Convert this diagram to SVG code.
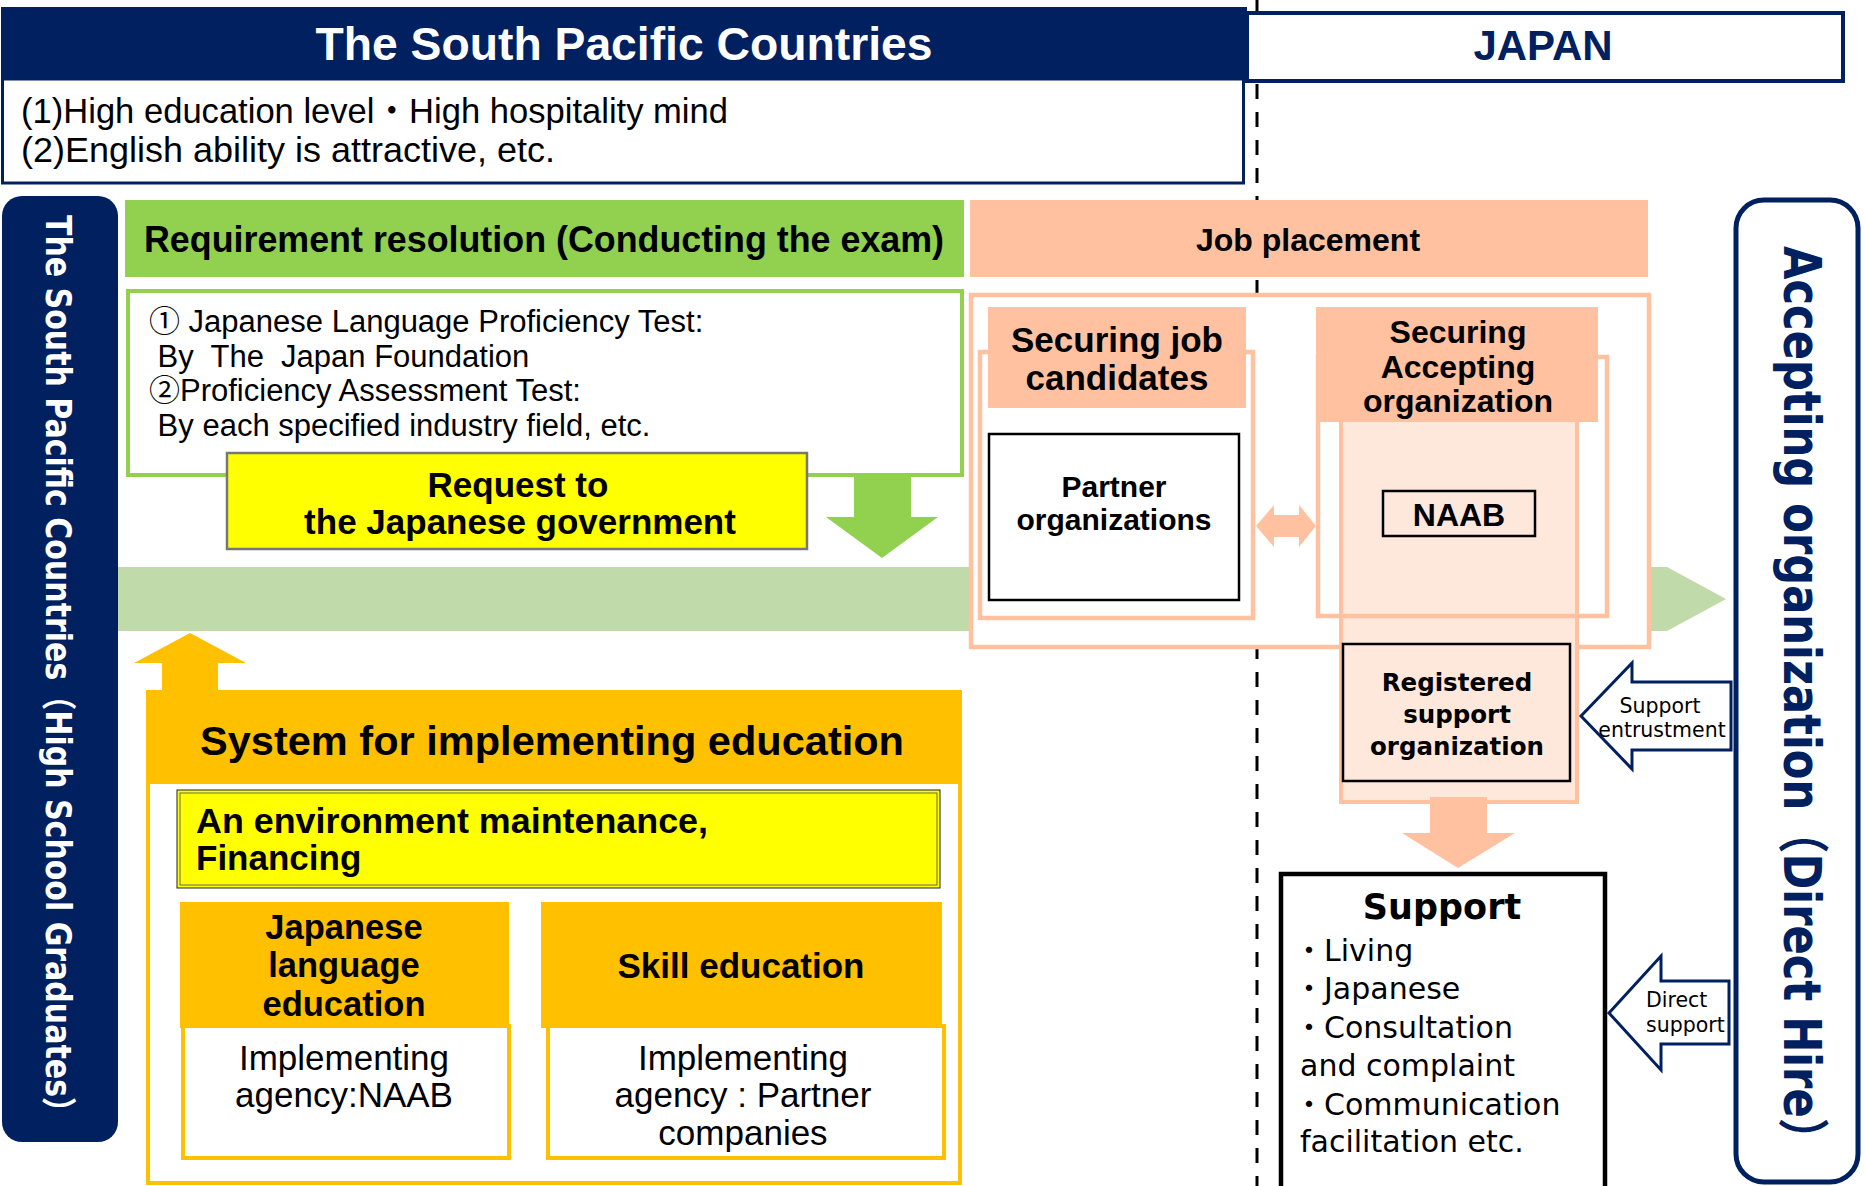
<svg xmlns="http://www.w3.org/2000/svg" width="1866" height="1186" viewBox="0 0 1866 1186">
  <style>
    .ls { font-family: "Liberation Sans", "Noto Sans CJK JP", sans-serif; }
    .dv { font-family: "DejaVu Sans", "Noto Sans CJK JP", sans-serif; }
    .b { font-weight: bold; }
    .mid { text-anchor: middle; }
    .navy { fill: #002060; }
    .peach { fill: #FFC19F; }
    .peachline { fill: none; stroke: #FFC19F; stroke-width: 4.5; }
    .blackbox { stroke: #000; stroke-width: 2.5; }
    .orangeline { fill: #fff; stroke: #FFC000; stroke-width: 4; }
    .callout { fill: #fff; stroke: #002060; stroke-width: 3; stroke-linejoin: miter; }
  </style>

  <!-- border between the two regions -->
  <line x1="1257" y1="0" x2="1257" y2="1186" stroke="#000" stroke-width="3" stroke-dasharray="15 13"/>

  <!-- title bar -->
  <g id="title-south-pacific">
    <rect x="1" y="7" width="1246" height="71" class="navy"/>
    <text x="624" y="60" class="ls b mid" font-size="46" fill="#fff" textLength="617" lengthAdjust="spacingAndGlyphs">The South Pacific Countries</text>
  </g>
  <g id="title-japan">
    <rect x="1247" y="13" width="596" height="68" fill="#fff" stroke="#002060" stroke-width="4"/>
    <text x="1543" y="60" class="ls b mid navy" font-size="42">JAPAN</text>
  </g>
  <g id="features">
    <rect x="2.5" y="79" width="1241" height="104" fill="#fff" stroke="#002060" stroke-width="3"/>
    <text x="21" y="123" class="ls" font-size="35" textLength="707" lengthAdjust="spacingAndGlyphs">(1)High education level・High hospitality mind</text>
    <text x="21" y="162" class="ls" font-size="35" textLength="534" lengthAdjust="spacingAndGlyphs">(2)English ability is attractive, etc.</text>
  </g>

  <!-- side bands -->
  <g id="graduates">
    <rect x="2" y="196" width="116" height="946" rx="20" class="navy"/>
    <text transform="translate(46,215) rotate(90) scale(1,1.17)" x="0" y="0" class="dv b" font-size="30" fill="#fff" textLength="912" lengthAdjust="spacingAndGlyphs">The South Pacific Countries（High School Graduates）</text>
  </g>
  <g id="accepting-org">
    <rect x="1736" y="200" width="122" height="982" rx="28" fill="#fff" stroke="#002060" stroke-width="5"/>
    <text transform="translate(1784,246) rotate(90) scale(1,1.2)" x="0" y="0" class="dv b navy" font-size="43" textLength="915" lengthAdjust="spacingAndGlyphs">Accepting organization（Direct Hire）</text>
  </g>

  <!-- connectors -->
  <g id="connectors">
    <polygon points="118,567 1667,567 1726,599 1667,631 118,631" fill="#C1DAAA"/>
    <polygon points="854,475 911,475 911,517 938,517 882,558 826,517 854,517" fill="#92D050"/>
    <polygon points="190,633 246,663 218,663 218,694 162,694 162,663 134,663" fill="#FFC000"/>
  </g>

  <!-- exam requirements -->
  <g id="requirement">
    <rect x="125" y="200" width="839" height="77" fill="#92D050"/>
    <text x="544" y="252" class="ls b mid" font-size="36" textLength="800" lengthAdjust="spacingAndGlyphs">Requirement resolution (Conducting the exam)</text>
  </g>
  <g id="exams">
    <rect x="128" y="291" width="834" height="184" fill="#fff" stroke="#92D050" stroke-width="4"/>
    <text x="149" y="332" class="ls" font-size="31" xml:space="preserve">① Japanese Language Proficiency Test:</text>
    <text x="149" y="367" class="ls" font-size="31" xml:space="preserve"> By  The  Japan Foundation</text>
    <text x="149" y="401" class="ls" font-size="31" xml:space="preserve">②Proficiency Assessment Test:</text>
    <text x="149" y="436" class="ls" font-size="31" xml:space="preserve"> By each specified industry field, etc.</text>
  </g>
  <g id="request">
    <rect x="227" y="453" width="580" height="96" fill="#FFFF00" stroke="#777" stroke-width="2.5"/>
    <text x="518" y="497" class="ls b mid" font-size="35">Request to</text>
    <text x="520" y="534" class="ls b mid" font-size="35">the Japanese government</text>
  </g>

  <!-- education system -->
  <g id="education-system">
    <rect x="148" y="692" width="812" height="491" fill="#fff" stroke="#FFC000" stroke-width="4"/>
    <rect x="146" y="692" width="816" height="92" fill="#FFC000"/>
    <text x="552" y="755" class="ls b mid" font-size="41.5" textLength="704" lengthAdjust="spacingAndGlyphs">System for implementing education</text>
  </g>
  <g id="environment">
    <rect x="177" y="790" width="763" height="98" fill="#FFFF00" stroke="#222" stroke-width="1"/>
    <rect x="180" y="793" width="757" height="92" fill="none" stroke="#666" stroke-width="1"/>
    <text x="196" y="833" class="ls b" font-size="35" textLength="512" lengthAdjust="spacingAndGlyphs">An environment maintenance,</text>
    <text x="196" y="870" class="ls b" font-size="35">Financing</text>
  </g>
  <g id="japanese-education">
    <rect x="183" y="1026" width="326" height="132" class="orangeline"/>
    <rect x="180" y="902" width="329" height="126" fill="#FFC000"/>
    <text x="344" y="939" class="ls b mid" font-size="34.5">Japanese</text>
    <text x="344" y="977" class="ls b mid" font-size="34.5">language</text>
    <text x="344" y="1016" class="ls b mid" font-size="34.5">education</text>
    <text x="344" y="1070" class="ls mid" font-size="35">Implementing</text>
    <text x="344" y="1107" class="ls mid" font-size="35">agency:NAAB</text>
  </g>
  <g id="skill-education">
    <rect x="548" y="1026" width="396" height="132" class="orangeline"/>
    <rect x="541" y="902" width="401" height="126" fill="#FFC000"/>
    <text x="741" y="978" class="ls b mid" font-size="35">Skill education</text>
    <text x="743" y="1070" class="ls mid" font-size="35">Implementing</text>
    <text x="743" y="1107" class="ls mid" font-size="35">agency : Partner</text>
    <text x="743" y="1145" class="ls mid" font-size="35">companies</text>
  </g>

  <!-- job placement -->
  <g id="job-placement">
    <rect x="970" y="200" width="678" height="77" class="peach"/>
    <text x="1308" y="251" class="ls b mid" font-size="32">Job placement</text>
    <rect x="971" y="295" width="678" height="352" fill="#fff" stroke="#FFC19F" stroke-width="4.5"/>
  </g>
  <g id="job-candidates">
    <rect x="980" y="352" width="273" height="266" class="peachline"/>
    <rect x="988" y="307" width="258" height="101" class="peach"/>
    <text x="1117" y="352" class="ls b mid" font-size="35">Securing job</text>
    <text x="1117" y="390" class="ls b mid" font-size="35">candidates</text>
  </g>
  <g id="partner-organizations">
    <rect x="989" y="434" width="250" height="166" fill="#fff" class="blackbox"/>
    <text x="1114" y="497" class="ls b mid" font-size="30">Partner</text>
    <text x="1114" y="530" class="ls b mid" font-size="30">organizations</text>
  </g>
  <g id="securing-accepting">
    <rect x="1341" y="410" width="236" height="392" fill="#FEE8DC" stroke="#FFC19F" stroke-width="4"/>
    <rect x="1318" y="357" width="289" height="259" class="peachline"/>
    <rect x="1316" y="307" width="282" height="115" class="peach"/>
    <text x="1458" y="343" class="ls b mid" font-size="32">Securing</text>
    <text x="1458" y="378" class="ls b mid" font-size="32">Accepting</text>
    <text x="1458" y="412" class="ls b mid" font-size="32">organization</text>
  </g>
  <g id="naab">
    <rect x="1383" y="491" width="152" height="45" fill="#FEE8DC" class="blackbox"/>
    <text x="1459" y="526" class="ls b mid" font-size="32">NAAB</text>
  </g>
  <g id="registered-support">
    <rect x="1343" y="644" width="227" height="137" fill="#FEE8DC" class="blackbox"/>
    <text x="1457" y="691" class="dv b mid" font-size="24.5">Registered</text>
    <text x="1457" y="723" class="dv b mid" font-size="24.5">support</text>
    <text x="1457" y="755" class="dv b mid" font-size="24.5">organization</text>
  </g>

  <g id="links">
    <polygon points="1256,526 1274,505 1274,515 1299,515 1299,505 1316,526 1299,547 1299,537 1274,537 1274,547" fill="#FFC19F"/>
    <polygon points="1430,797 1487,797 1487,833 1515,833 1458,868 1402,833 1430,833" fill="#FFC19F"/>
    <polygon points="1581,716 1632,663 1632,682 1731,682 1731,750 1632,750 1632,769" class="callout"/>
    <polygon points="1609,1013 1661,956 1661,981 1729,981 1729,1044 1661,1044 1661,1070" class="callout"/>
  </g>
  <g id="link-labels" class="dv" font-size="20.5">
    <text x="1660" y="713" class="mid">Support</text>
    <text x="1662" y="737" class="mid">entrustment</text>
    <text x="1646" y="1007">Direct</text>
    <text x="1646" y="1032">support</text>
  </g>

  <!-- support contents -->
  <g id="support">
    <rect x="1281" y="874" width="324" height="320" fill="#fff" stroke="#000" stroke-width="4.5"/>
    <text x="1442" y="919" class="dv b mid" font-size="35">Support</text>
    <text x="1294" y="961" class="dv" font-size="30">・Living</text>
    <text x="1294" y="999" class="dv" font-size="30">・Japanese</text>
    <text x="1294" y="1038" class="dv" font-size="30">・Consultation</text>
    <text x="1300" y="1076" class="dv" font-size="30">and complaint</text>
    <text x="1294" y="1115" class="dv" font-size="30">・Communication</text>
    <text x="1300" y="1152" class="dv" font-size="30">facilitation etc.</text>
  </g>
</svg>
